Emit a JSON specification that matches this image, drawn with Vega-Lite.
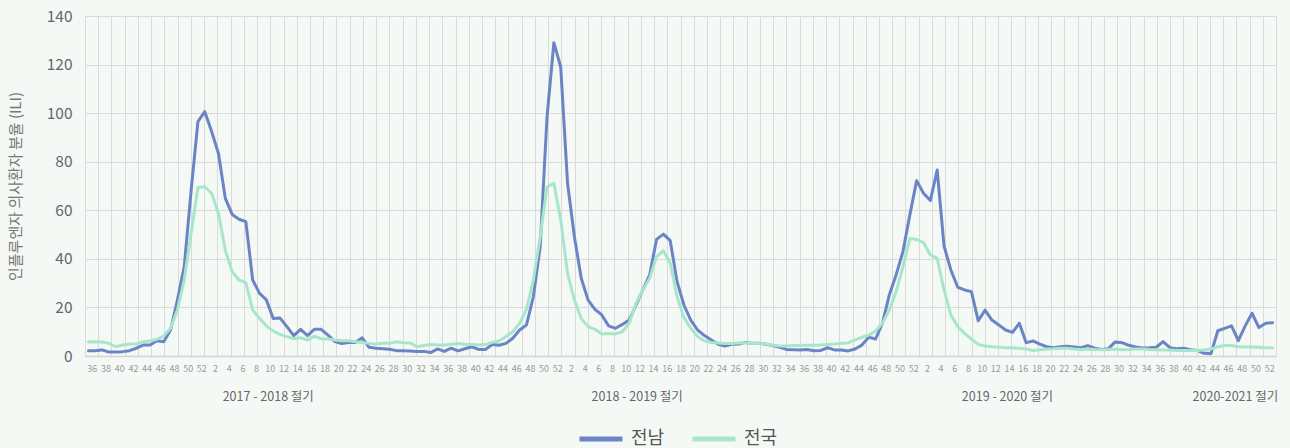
{
  "$schema": "https://vega.github.io/schema/vega-lite/v6.json",
  "width": 1191,
  "height": 340,
  "autosize": {"type": "none"},
  "padding": {"left": 85, "top": 16, "right": 14, "bottom": 92},
  "background": "#f5f9f6",
  "config": {
    "view": {"stroke": null},
    "font": "Noto Sans CJK KR",
    "axis": {"labelFont": "Noto Sans CJK KR", "titleFont": "Noto Sans CJK KR"},
    "legend": {"labelFont": "Noto Sans CJK KR"}
  },
  "data": {
    "values": [
      {"i":0,"전남":2.2,"전국":5.8},{"i":1,"전남":2.2,"전국":5.9},{"i":2,"전남":2.5,"전국":5.8},{"i":3,"전남":1.6,"전국":5.2},{"i":4,"전남":1.6,"전국":3.8},
      {"i":5,"전남":1.8,"전국":4.5},{"i":6,"전남":2.2,"전국":4.9},{"i":7,"전남":3.2,"전국":4.9},{"i":8,"전남":4.5,"전국":5.9},{"i":9,"전남":4.5,"전국":6.2},
      {"i":10,"전남":6.3,"전국":6.9},{"i":11,"전남":5.9,"전국":8.2},{"i":12,"전남":10.7,"전국":11.4},{"i":13,"전남":23,"전국":18.9},{"i":14,"전남":36.8,"전국":31.3},
      {"i":15,"전남":68,"전국":50.5},{"i":16,"전남":96.5,"전국":69.4},{"i":17,"전남":100.6,"전국":69.7},{"i":18,"전남":92.4,"전국":67},{"i":19,"전남":83.4,"전국":58.7},
      {"i":20,"전남":64.9,"전국":43.6},{"i":21,"전남":58.3,"전국":34.7},{"i":22,"전남":56.3,"전국":31.3},{"i":23,"전남":55.3,"전국":30.2},{"i":24,"전남":31.3,"전국":18.9},
      {"i":25,"전남":25.8,"전국":15.5},{"i":26,"전남":23.1,"전국":12.4},{"i":27,"전남":15.4,"전국":10.3},{"i":28,"전남":15.6,"전국":8.9},{"i":29,"전남":12.1,"전국":8},
      {"i":30,"전남":8.4,"전국":7.1},{"i":31,"전남":11,"전국":7.5},{"i":32,"전남":8.4,"전국":6.6},{"i":33,"전남":11,"전국":8.2},{"i":34,"전남":11,"전국":7.1},
      {"i":35,"전남":8.6,"전국":7},{"i":36,"전남":5.9,"전국":6.6},{"i":37,"전남":5.1,"전국":6.3},{"i":38,"전남":5.6,"전국":6.3},{"i":39,"전남":5.6,"전국":5.9},
      {"i":40,"전남":7.5,"전국":5.6},{"i":41,"전남":3.6,"전국":5.2},{"i":42,"전남":3.2,"전국":4.9},{"i":43,"전남":3.0,"전국":5.2},{"i":44,"전남":2.8,"전국":5.2},
      {"i":45,"전남":2.2,"전국":5.9},{"i":46,"전남":2.2,"전국":5.5},{"i":47,"전남":2.1,"전국":5.4},{"i":48,"전남":1.9,"전국":3.8},{"i":49,"전남":1.9,"전국":4.3},
      {"i":50,"전남":1.4,"전국":4.7},{"i":51,"전남":2.9,"전국":4.5},{"i":52,"전남":1.9,"전국":4.5},{"i":53,"전남":3.2,"전국":4.8},{"i":54,"전남":2.1,"전국":5.1},
      {"i":55,"전남":3.0,"전국":4.8},{"i":56,"전남":3.8,"전국":4.7},{"i":57,"전남":2.7,"전국":4.5},{"i":58,"전남":2.7,"전국":4.7},{"i":59,"전남":4.7,"전국":5.6},
      {"i":60,"전남":4.4,"전국":6.2},{"i":61,"전남":5.2,"전국":8},{"i":62,"전남":7.3,"전국":10},{"i":63,"전남":10.7,"전국":13.5},{"i":64,"전남":12.8,"전국":19.2},
      {"i":65,"전남":24.4,"전국":31.3},{"i":66,"전남":45,"전국":49.1},{"i":67,"전남":98.5,"전국":69.7},{"i":68,"전남":129,"전국":71.1},{"i":69,"전남":119,"전국":56},
      {"i":70,"전남":71.1,"전국":34},{"i":71,"전남":49.1,"전국":23},{"i":72,"전남":32,"전국":15.5},{"i":73,"전남":23,"전국":12.1},{"i":74,"전남":19.2,"전국":11},
      {"i":75,"전남":16.9,"전국":9.1},{"i":76,"전남":12.4,"전국":9.3},{"i":77,"전남":11.4,"전국":9.1},{"i":78,"전남":13,"전국":10},{"i":79,"전남":14.8,"전국":13.5},
      {"i":80,"전남":20.9,"전국":21.7},{"i":81,"전남":27.2,"전국":27.2},{"i":82,"전남":33.4,"전국":32},{"i":83,"전남":48,"전국":40.9},{"i":84,"전남":50.2,"전국":43.4},
      {"i":85,"전남":47.5,"전국":38.2},{"i":86,"전남":30.6,"전국":24.4},{"i":87,"전남":21,"전국":15.8},{"i":88,"전남":14.8,"전국":11.4},{"i":89,"전남":10.7,"전국":8},
      {"i":90,"전남":8.4,"전국":6.2},{"i":91,"전남":6.6,"전국":5.6},{"i":92,"전남":4.8,"전국":5.4},{"i":93,"전남":4.1,"전국":5.1},{"i":94,"전남":4.8,"전국":5.1},
      {"i":95,"전남":4.9,"전국":5.5},{"i":96,"전남":5.6,"전국":5.4},{"i":97,"전남":5.2,"전국":5.2},{"i":98,"전남":5.2,"전국":5.1},{"i":99,"전남":4.8,"전국":4.9},
      {"i":100,"전남":4.3,"전국":4.4},{"i":101,"전남":3.6,"전국":4.1},{"i":102,"전남":2.7,"전국":4.1},{"i":103,"전남":2.6,"전국":4.3},{"i":104,"전남":2.5,"전국":4.3},
      {"i":105,"전남":2.7,"전국":4.4},{"i":106,"전남":2.2,"전국":4.4},{"i":107,"전남":2.3,"전국":4.5},{"i":108,"전남":3.4,"전국":4.7},{"i":109,"전남":2.5,"전국":4.9},
      {"i":110,"전남":2.5,"전국":5.2},{"i":111,"전남":2.1,"전국":5.4},{"i":112,"전남":2.9,"전국":6.6},{"i":113,"전남":4.5,"전국":7.7},{"i":114,"전남":7.7,"전국":8.6},
      {"i":115,"전남":7,"전국":10.3},{"i":116,"전남":13.5,"전국":13.5},{"i":117,"전남":25.1,"전국":18.9},{"i":118,"전남":33.4,"전국":26.5},{"i":119,"전남":43,"전국":36.8},
      {"i":120,"전남":58,"전국":48.4},{"i":121,"전남":72.2,"전국":48},{"i":122,"전남":67,"전국":46.7},{"i":123,"전남":64,"전국":41.6},{"i":124,"전남":76.6,"전국":40.2},
      {"i":125,"전남":45.3,"전국":27.2},{"i":126,"전남":35.4,"전국":16.9},{"i":127,"전남":28.3,"전국":12.1},{"i":128,"전남":27.2,"전국":9.3},{"i":129,"전남":26.5,"전국":7},
      {"i":130,"전남":14.5,"전국":4.8},{"i":131,"전남":18.9,"전국":4.1},{"i":132,"전남":14.8,"전국":3.8},{"i":133,"전남":12.8,"전국":3.7},{"i":134,"전남":10.7,"전국":3.4},
      {"i":135,"전남":9.7,"전국":3.4},{"i":136,"전남":13.5,"전국":3.2},{"i":137,"전남":5.5,"전국":2.9},{"i":138,"전남":6.2,"전국":2.3},{"i":139,"전남":4.9,"전국":2.6},
      {"i":140,"전남":3.8,"전국":2.9},{"i":141,"전남":3.4,"전국":3},{"i":142,"전남":3.8,"전국":3.2},{"i":143,"전남":4,"전국":3.2},{"i":144,"전남":3.7,"전국":2.9},
      {"i":145,"전남":3.4,"전국":2.7},{"i":146,"전남":4.3,"전국":2.9},{"i":147,"전남":3.2,"전국":2.7},{"i":148,"전남":2.7,"전국":2.6},{"i":149,"전남":3,"전국":2.7},
      {"i":150,"전남":5.8,"전국":2.9},{"i":151,"전남":5.5,"전국":2.6},{"i":152,"전남":4.4,"전국":2.7},{"i":153,"전남":3.7,"전국":2.9},{"i":154,"전남":3.3,"전국":2.9},
      {"i":155,"전남":3.4,"전국":2.7},{"i":156,"전남":3.6,"전국":2.6},{"i":157,"전남":5.9,"전국":2.5},{"i":158,"전남":3.4,"전국":2.5},{"i":159,"전남":3,"전국":2.3},
      {"i":160,"전남":3.2,"전국":2.3},{"i":161,"전남":2.6,"전국":2.3},{"i":162,"전남":2.3,"전국":2.3},{"i":163,"전남":1.1,"전국":2.5},{"i":164,"전남":1.0,"전국":2.9},
      {"i":165,"전남":10.4,"전국":3.8},{"i":166,"전남":11.4,"전국":4.3},{"i":167,"전남":12.4,"전국":4.3},{"i":168,"전남":6.3,"전국":3.8},{"i":169,"전남":12.4,"전국":3.7},
      {"i":170,"전남":17.6,"전국":3.7},{"i":171,"전남":11.7,"전국":3.6},{"i":172,"전남":13.5,"전국":3.4},{"i":173,"전남":13.7,"전국":3.4}
    ]
  },
  "resolve": {"axis": {"x": "independent"}},
  "layer": [
    {
      "mark": {"type": "point", "opacity": 0, "size": 0},
      "encoding": {
        "x": {
          "field": "i", "type": "quantitative",
          "scale": {"domain": [-0.5, 173.5], "nice": false, "zero": false},
          "axis": {
            "orient": "bottom", "title": null, "labels": false, "ticks": false,
            "domain": true, "domainColor": "#d4d4d4", "domainWidth": 1.5,
            "grid": true, "gridColor": "#dadada", "gridWidth": 1,
            "values": [-0.5,1.433,3.367,5.3,7.233,9.167,11.1,13.033,14.967,16.9,18.833,20.767,22.7,24.633,26.567,28.5,30.433,32.367,34.3,36.233,38.167,40.1,42.033,43.967,45.9,47.833,49.767,51.7,53.633,55.567,57.5,59.433,61.367,63.3,65.233,67.167,69.1,71.033,72.967,74.9,76.833,78.767,80.7,82.633,84.567,86.5,88.433,90.367,92.3,94.233,96.167,98.1,100.033,101.967,103.9,105.833,107.767,109.7,111.633,113.567,115.5,117.433,119.367,121.3,123.233,125.167,127.1,129.033,130.967,132.9,134.833,136.767,138.7,140.633,142.567,144.5,146.433,148.367,150.3,152.233,154.167,156.1,158.033,159.967,161.9,163.833,165.767,167.7,169.633,171.567,173.5]
          }
        },
        "y": {
          "field": "전남", "type": "quantitative",
          "scale": {"domain": [0, 140], "nice": false},
          "axis": {
            "values": [0, 20, 40, 60, 80, 100, 120, 140],
            "title": "인플루엔자 의사환자 분율 (ILI)",
            "titleFontSize": 15, "titleFontWeight": "normal", "titleColor": "#777777", "titlePadding": 23,
            "labelFontSize": 15.5, "labelColor": "#666666", "labelPadding": 13,
            "ticks": false, "domain": false,
            "grid": true, "gridColor": "#dadada", "gridWidth": 1
          }
        }
      }
    },
    {
      "mark": {"type": "point", "opacity": 0, "size": 0},
      "encoding": {
        "x": {
          "field": "i", "type": "quantitative",
          "axis": {
            "orient": "bottom", "title": null, "grid": false, "ticks": false, "domain": false,
            "labelFontSize": 12.5, "labelColor": "#666666", "labelPadding": 34,
            "labelOverlap": false, "labelFlush": false, "labelBound": false,
            "values": [26.2, 80.1, 134.2, 167.5],
            "labelExpr": "datum.value < 50 ? '2017 - 2018 절기' : datum.value < 100 ? '2018 - 2019 절기' : datum.value < 150 ? '2019 - 2020 절기' : '2020-2021 절기'"
          }
        },
        "y": {"field": "전국", "type": "quantitative"}
      }
    },
    {
      "transform": [{"fold": ["전남", "전국"], "as": ["region", "value"]}],
      "mark": {"type": "line", "strokeWidth": 3, "strokeJoin": "round", "strokeCap": "round"},
      "encoding": {
        "x": {
          "field": "i", "type": "quantitative",
          "axis": {
            "orient": "bottom", "title": null, "grid": false, "ticks": false, "domain": false,
            "labelFontSize": 9, "labelColor": "#999999", "labelPadding": 8,
            "labelOverlap": false, "labelFlush": false, "labelBound": false,
            "values": [0.5,2.5,4.5,6.5,8.5,10.5,12.5,14.5,16.5,18.5,20.5,22.5,24.5,26.5,28.5,30.5,32.5,34.5,36.5,38.5,40.5,42.5,44.5,46.5,48.5,50.5,52.5,54.5,56.5,58.5,60.5,62.5,64.5,66.5,68.5,70.5,72.5,74.5,76.5,78.5,80.5,82.5,84.5,86.5,88.5,90.5,92.5,94.5,96.5,98.5,100.5,102.5,104.5,106.5,108.5,110.5,112.5,114.5,116.5,118.5,120.5,122.5,124.5,126.5,128.5,130.5,132.5,134.5,136.5,138.5,140.5,142.5,144.5,146.5,148.5,150.5,152.5,154.5,156.5,158.5,160.5,162.5,164.5,166.5,168.5,170.5,172.5],
            "labelExpr": "((floor(datum.value) + 35) % 52) + 1"
          }
        },
        "y": {"field": "value", "type": "quantitative"},
        "color": {
          "field": "region", "type": "nominal",
          "scale": {"domain": ["전남", "전국"], "range": ["#6b84c5", "#a8e6cb"]},
          "legend": {
            "title": null, "orient": "none", "direction": "horizontal",
            "legendX": 492, "legendY": 399, "padding": 0,
            "symbolType": "stroke", "symbolSize": 1849, "symbolStrokeWidth": 5,
            "labelFontSize": 18, "labelColor": "#555555", "labelOffset": 6,
            "columnPadding": 17
          }
        },
        "order": {"field": "region", "type": "nominal", "sort": "descending"}
      }
    }
  ]
}
